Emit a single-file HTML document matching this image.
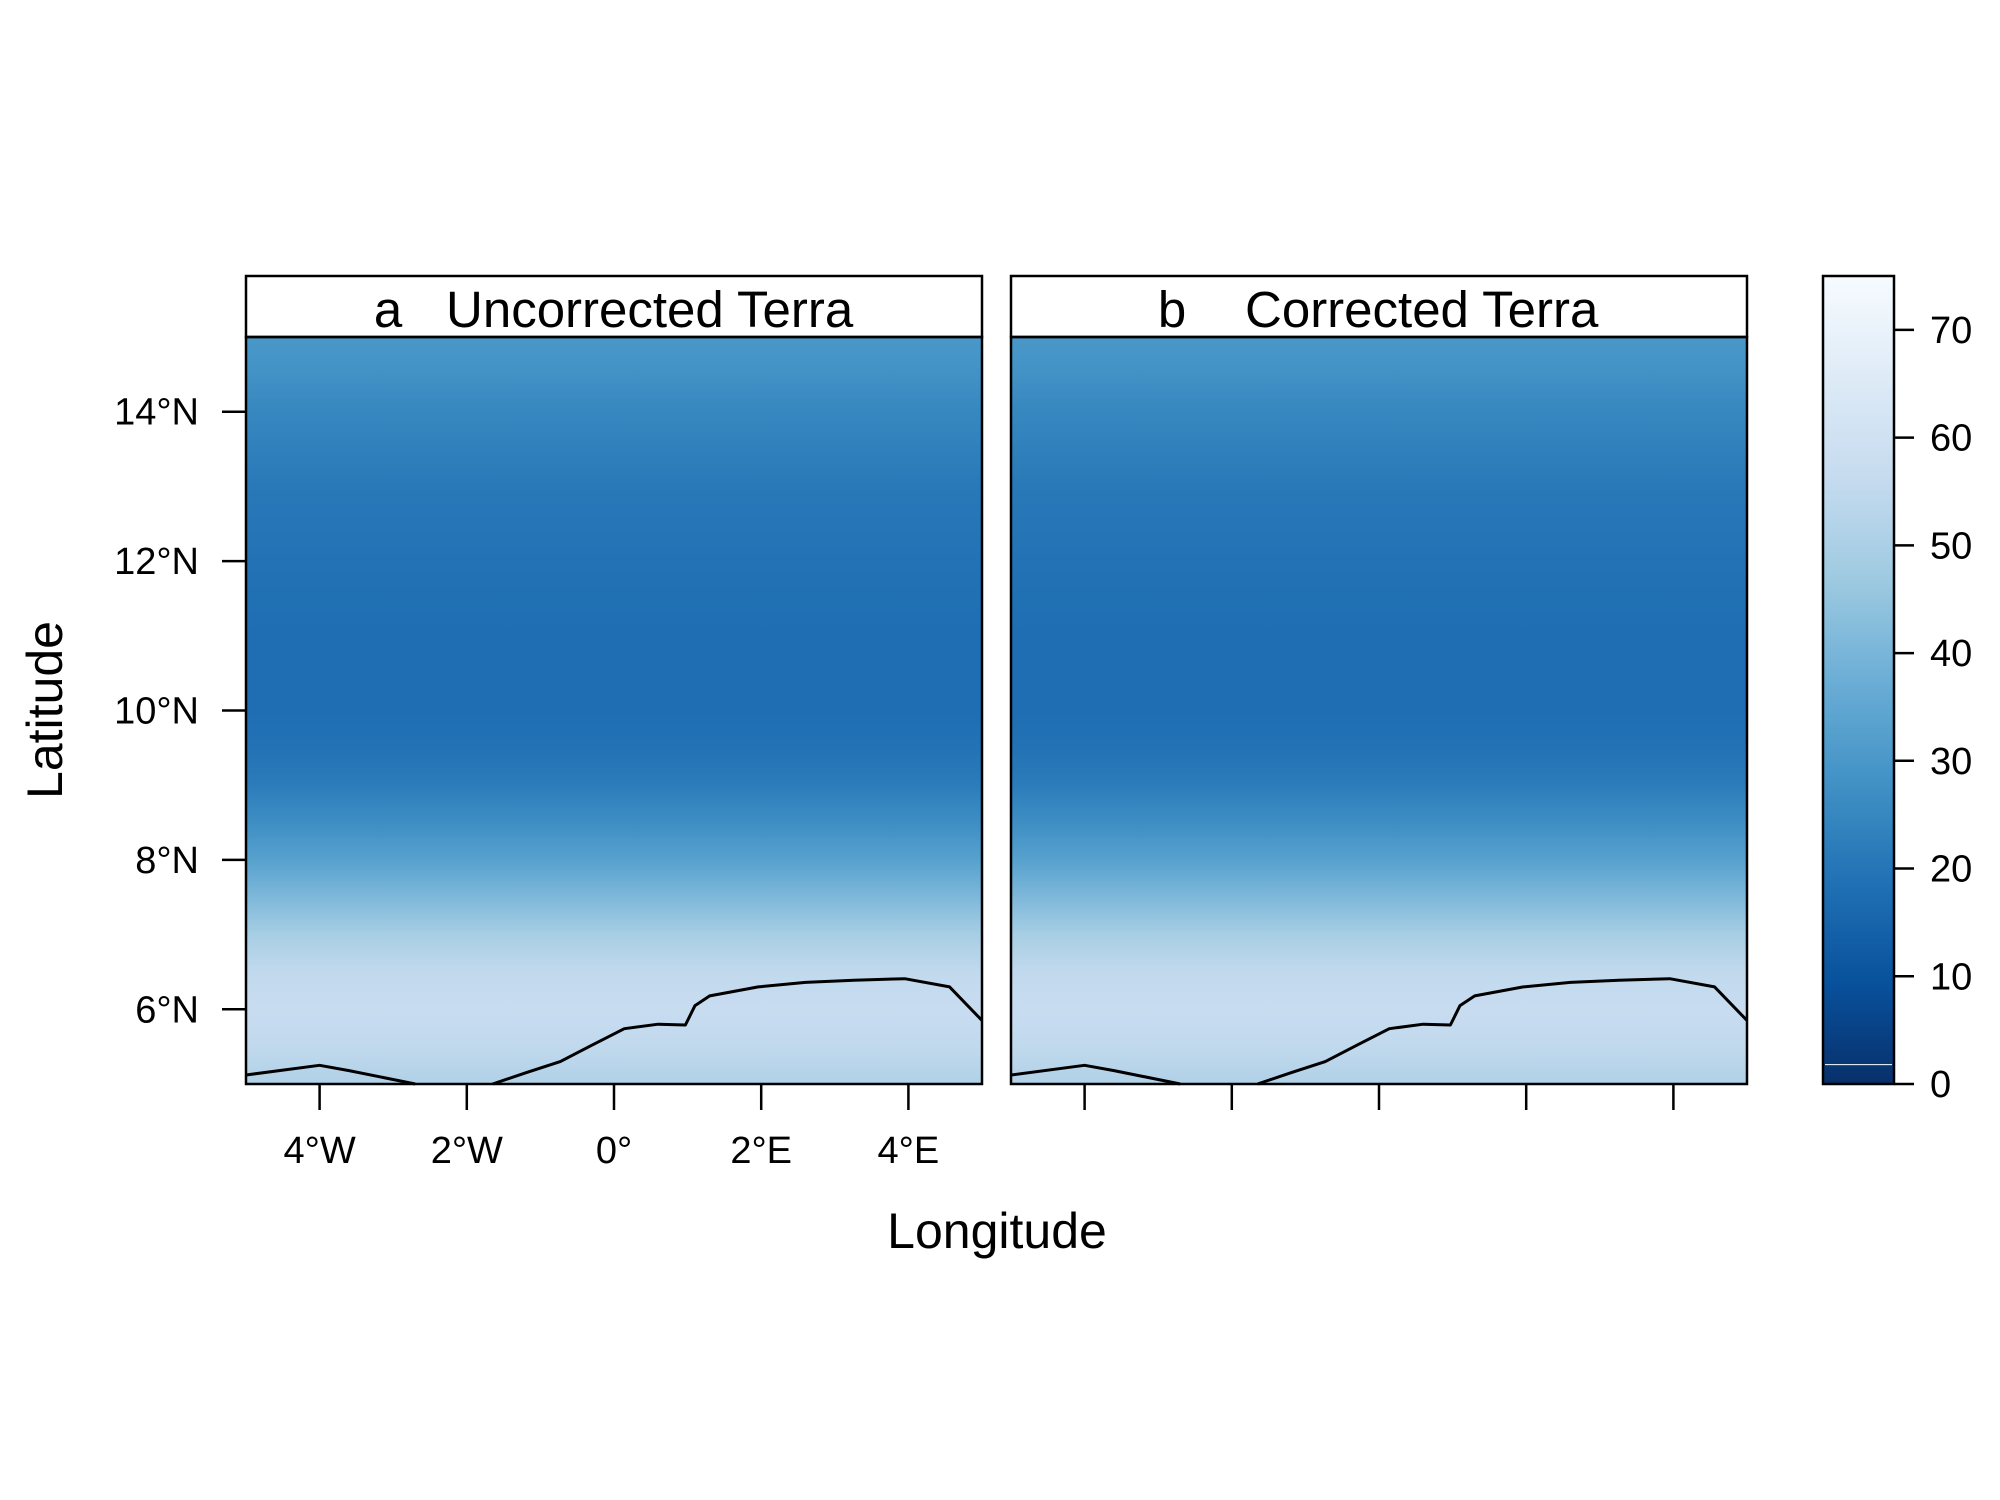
<!DOCTYPE html>
<html><head><meta charset="utf-8"><style>
html,body{margin:0;padding:0;background:#fff;}
svg{display:block;font-family:"Liberation Sans",sans-serif;}
</style></head><body>
<svg id="chart" width="2000" height="1500" viewBox="0 0 2000 1500" xmlns="http://www.w3.org/2000/svg">
<defs id="defs"></defs>
<g id="root"></g>
</svg>
<script>
// ---- data ----
const lonTicks = [-4, -2, 0, 2, 4];
const lonLabels = ["4°W", "2°W", "0°", "2°E", "4°E"];
const latTicks = [6, 8, 10, 12, 14];
const latLabels = ["6°N", "8°N", "10°N", "12°N", "14°N"];
const cbTicks = [0, 10, 20, 30, 40, 50, 60, 70];
const panelLetters = ["a", "b"];
const panelNames = ["Uncorrected Terra", "Corrected Terra"];
const profileLat = [15, 14.5, 14, 13, 12, 11, 10, 9.5, 9, 8.5, 8, 7.5, 7, 6.5, 6, 5.5, 5];
const profileVal = [30, 28, 25, 21, 19, 18, 18, 19, 22, 27, 33, 41, 49, 55, 57, 55, 51];
const coastWestLon = [-5, -4, -3.6, -2.7];
const coastWestLat = [5.12, 5.25, 5.18, 5.0];
const coastEastLon = [-1.65, -1.2, -0.73, -0.3, 0.14, 0.6, 0.97, 1.1, 1.3, 1.96, 2.6, 3.26, 3.95, 4.56, 5.0];
const coastEastLat = [5.0, 5.15, 5.3, 5.52, 5.74, 5.8, 5.79, 6.05, 6.18, 6.3, 6.36, 6.39, 6.41, 6.3, 5.85];
const blues = ["#08306b","#08519c","#2171b5","#4292c6","#6baed6","#9ecae1","#c6dbef","#deebf7","#f7fbff"];

// ---- layout ----
const panelsX = [[246, 982], [1011, 1747]];
const letterX = [388, 1172];
const nameX = [446, 1245];
const plotTop = 337, plotBot = 1084, stripTop = 276;
const cbX0 = 1823, cbX1 = 1894, cbTop = 276, cbBot = 1084, cbMax = 75;
const NS = "http://www.w3.org/2000/svg";
const root = document.getElementById('root');
const defs = document.getElementById('defs');
function el(tag, attrs, parent) {
  const e = document.createElementNS(NS, tag);
  for (const k in attrs) e.setAttribute(k, attrs[k]);
  (parent || root).appendChild(e);
  return e;
}
function yScale(lat) { return plotBot - (lat - 5) / 10 * (plotBot - plotTop); }
function xScale(p, lon) { const [a, b] = panelsX[p]; return a + (lon + 5) / 10 * (b - a); }
function cbY(v) { return cbBot - v / cbMax * (cbBot - cbTop); }
function hex(c){return [1,3,5].map(i=>parseInt(c.substr(i,2),16));}
function colorOf(v) {
  const t = Math.max(0, Math.min(1, v / cbMax)) * (blues.length - 1);
  const i = Math.min(blues.length - 2, Math.floor(t)), f = t - i;
  const a = hex(blues[i]), b = hex(blues[i + 1]);
  return "rgb(" + a.map((x, k) => Math.round(x + (b[k] - x) * f)).join(",") + ")";
}

const lg = el('linearGradient', {id: 'field', x1: 0, y1: 0, x2: 0, y2: 1}, defs);
profileLat.forEach((lat, i) => {
  el('stop', {offset: ((15 - lat) / 10).toFixed(3), 'stop-color': colorOf(profileVal[i])}, lg);
});
const cg = el('linearGradient', {id: 'cbgrad', x1: 0, y1: 1, x2: 0, y2: 0}, defs);
blues.forEach((c, i) => el('stop', {offset: i / (blues.length - 1), 'stop-color': c}, cg));

panelsX.forEach(([x0, x1], p) => {
  const g = el('g', {});
  
  
  const r = el('rect', {x: x0, y: plotTop, width: x1 - x0, height: plotBot - plotTop, fill: 'url(#field)'}, g);
  
  
  [[coastWestLon, coastWestLat], [coastEastLon, coastEastLat]].forEach(([lo, la]) => {
    const d = lo.map((v, i) => (i ? 'L' : 'M') + xScale(p, v).toFixed(1) + ',' + yScale(la[i]).toFixed(1)).join(' ');
    const c = el('path', {d: d, fill: 'none', stroke: '#000', 'stroke-width': 3, 'stroke-linejoin': 'round'}, g);
    
    
  });
  const s = el('rect', {x: x0, y: stripTop, width: x1 - x0, height: plotTop - stripTop, fill: '#fff', stroke: '#000', 'stroke-width': 2.5}, g);
  
  
  const tl = el('text', {x: letterX[p], y: 327, 'font-size': 51, 'text-anchor': 'middle'}, g);
  tl.textContent = panelLetters[p];
  
  
  const t = el('text', {x: nameX[p], y: 327, 'font-size': 51}, g);
  t.textContent = panelNames[p];
  
  
  const b = el('rect', {x: x0, y: plotTop, width: x1 - x0, height: plotBot - plotTop, fill: 'none', stroke: '#000', 'stroke-width': 2.5}, g);
  
  
  lonTicks.forEach((lon, i) => {
    const x = xScale(p, lon);
    const tk = el('line', {x1: x, x2: x, y1: plotBot, y2: plotBot + 26, stroke: '#000', 'stroke-width': 2.5}, g);
    
    
    if (p === 0) {
      const xl = el('text', {x: x, y: 1163, 'font-size': 38, 'text-anchor': 'middle'}, g);
      xl.textContent = lonLabels[i];
      
      
    }
  });
});
latTicks.forEach((lat, i) => {
  const y = yScale(lat);
  const tk = el('line', {x1: 222, x2: 246, y1: y, y2: y, stroke: '#000', 'stroke-width': 2.5});
  
  
  const tl = el('text', {x: 199, y: y + 13, 'font-size': 38, 'text-anchor': 'end'});
  tl.textContent = latLabels[i];
  
  
});
const cb = el('rect', {x: cbX0, y: cbTop, width: cbX1 - cbX0, height: cbBot - cbTop, fill: 'url(#cbgrad)', stroke: '#000', 'stroke-width': 2.5});


const wl = el('line', {x1: cbX0 + 2, x2: cbX1 - 2, y1: cbY(1.8), y2: cbY(1.8), stroke: '#fff', 'stroke-width': 1});


cbTicks.forEach(v => {
  const y = cbY(v);
  const tk = el('line', {x1: cbX1, x2: cbX1 + 20, y1: y, y2: y, stroke: '#000', 'stroke-width': 2.5});
  
  
  const tl = el('text', {x: 1930, y: y + 13, 'font-size': 38});
  tl.textContent = v;
  
  
});
const xt = el('text', {x: 997, y: 1248, 'font-size': 50, 'text-anchor': 'middle'});
xt.textContent = 'Longitude';


const yt = el('text', {x: 0, y: 0, 'font-size': 50, 'text-anchor': 'middle', transform: 'translate(62,710) rotate(-90)'});
yt.textContent = 'Latitude';


</script>
</body></html>
